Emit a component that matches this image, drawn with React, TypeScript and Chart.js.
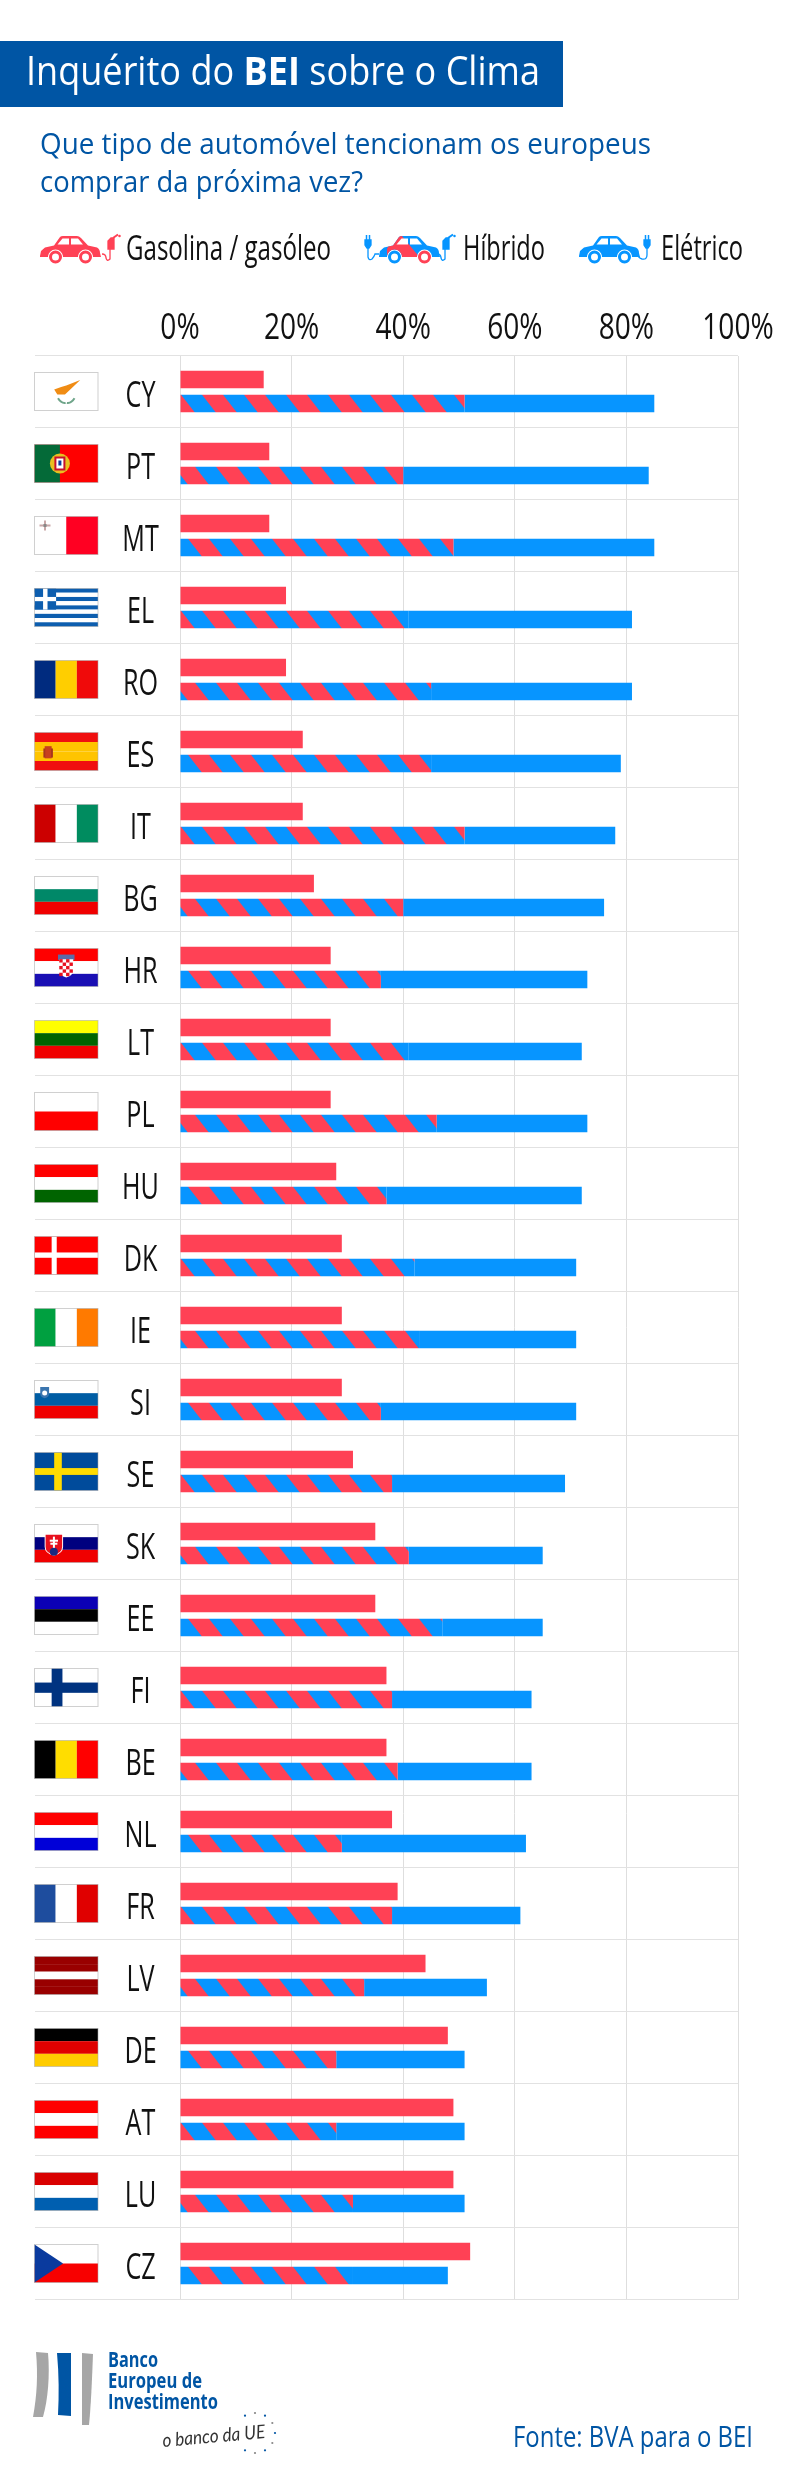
import React, { useEffect, useRef } from "react";
import { Chart, registerables } from "chart.js";

Chart.register(...registerables);

const countries = ["CY","PT","MT","EL","RO","ES","IT","BG","HR","LT","PL","HU","DK","IE","SI","SE","SK","EE","FI","BE","NL","FR","LV","DE","AT","LU","CZ"];
const gasolina = [15,16,16,19,19,22,22,24,27,27,27,28,29,29,29,31,35,35,37,37,38,39,44,48,49,49,52];
const hibrido = [51,40,49,41,45,45,51,40,36,41,46,37,42,43,36,38,41,47,38,39,29,38,33,28,28,31,31];
const eletrico = [34,44,36,40,36,34,27,36,37,31,27,35,29,28,35,31,24,18,25,24,33,23,22,23,23,20,17];
const xTicks = [0,20,40,60,80,100];

const RED = "#FF4155";
const BLUE = "#0795FF";
const NAVY = "#0055A4";
const SANS = '"Open Sans", sans-serif';

type Ctx = CanvasRenderingContext2D;
const bands = (c: Ctx, x: number, y: number, w: number, h: number, cols: string[], vertical = false) => {
  cols.forEach((col, i) => {
    c.fillStyle = col;
    if (vertical) c.fillRect(x + (w * i) / cols.length, y, w / cols.length, h);
    else c.fillRect(x, y + (h * i) / cols.length, w, h / cols.length);
  });
};
const cross = (c: Ctx, x: number, y: number, w: number, h: number, bg: string, fg: string, v0: number, v1: number, h0: number, h1: number) => {
  c.fillStyle = bg; c.fillRect(x, y, w, h);
  c.fillStyle = fg;
  c.fillRect(x + w * v0, y, w * (v1 - v0), h);
  c.fillRect(x, y + h * h0, w, h * (h1 - h0));
};
const shield = (c: Ctx, x: number, y: number, w: number, h: number, col: string) => {
  c.fillStyle = col;
  c.beginPath();
  c.moveTo(x, y); c.lineTo(x + w, y); c.lineTo(x + w, y + h * 0.6);
  c.quadraticCurveTo(x + w, y + h * 0.9, x + w / 2, y + h);
  c.quadraticCurveTo(x, y + h * 0.9, x, y + h * 0.6);
  c.closePath(); c.fill();
};

const flagArt: Record<string, (c: Ctx, x: number, y: number, w: number, h: number) => void> = {
  CY: (c, x, y, w, h) => {
    c.fillStyle = "#fff"; c.fillRect(x, y, w, h);
    c.fillStyle = "#F08C14";
    c.beginPath();
    c.moveTo(x + w*0.31, y + h*0.45); c.lineTo(x + w*0.42, y + h*0.38); c.lineTo(x + w*0.5, y + h*0.34);
    c.lineTo(x + w*0.72, y + h*0.2); c.lineTo(x + w*0.58, y + h*0.42); c.lineTo(x + w*0.48, y + h*0.58);
    c.lineTo(x + w*0.36, y + h*0.58); c.closePath(); c.fill();
    c.strokeStyle = "#6FA58A"; c.lineWidth = 2;
    c.beginPath(); c.moveTo(x + w*0.37, y + h*0.68); c.quadraticCurveTo(x + w*0.42, y + h*0.82, x + w*0.49, y + h*0.8);
    c.moveTo(x + w*0.63, y + h*0.68); c.quadraticCurveTo(x + w*0.58, y + h*0.82, x + w*0.51, y + h*0.8); c.stroke();
  },
  PT: (c, x, y, w, h) => {
    c.fillStyle = "#FF0000"; c.fillRect(x, y, w, h);
    c.fillStyle = "#046A38"; c.fillRect(x, y, w * 0.4, h);
    c.fillStyle = "#E8C020"; c.beginPath(); c.arc(x + w*0.4, y + h/2, 10, 0, 7); c.fill();
    c.fillStyle = "#C8102E"; c.fillRect(x + w*0.4 - 5.5, y + h/2 - 7, 11, 14);
    c.fillStyle = "#fff"; c.fillRect(x + w*0.4 - 3.5, y + h/2 - 5, 7, 10);
    c.fillStyle = "#0A3A9E"; c.fillRect(x + w*0.4 - 1.5, y + h/2 - 3, 3, 5);
  },
  MT: (c, x, y, w, h) => {
    bands(c, x, y, w, h, ["#fff", "#FF0022"], true);
    c.fillStyle = "#C9A8A8"; c.fillRect(x + 5, y + 8, 11, 2); c.fillRect(x + 9.5, y + 4, 2, 10);
    c.fillStyle = "#888"; c.fillRect(x + 9, y + 7.5, 3, 3);
  },
  EL: (c, x, y, w, h) => {
    bands(c, x, y, w, h, ["#0D5EAF","#fff","#0D5EAF","#fff","#0D5EAF","#fff","#0D5EAF","#fff","#0D5EAF"]);
    c.fillStyle = "#0D5EAF"; c.fillRect(x, y, w * 0.34, (h * 5) / 9);
    c.fillStyle = "#fff"; c.fillRect(x + w*0.135, y, w*0.07, (h*5)/9); c.fillRect(x, y + (h*2)/9, w*0.34, h/9);
  },
  RO: (c, x, y, w, h) => bands(c, x, y, w, h, ["#002B7F","#FFCE00","#F00A0A"], true),
  ES: (c, x, y, w, h) => {
    bands(c, x, y, w, h, ["#F00F0F","#FFC400","#FFC400","#F00F0F"]);
    c.fillStyle = "#C8401E"; c.fillRect(x + w*0.16, y + h*0.36, w*0.11, h*0.32);
    c.fillStyle = "#A8361E"; c.fillRect(x + w*0.14, y + h*0.42, w*0.03, h*0.24); c.fillRect(x + w*0.26, y + h*0.42, w*0.03, h*0.24);
  },
  IT: (c, x, y, w, h) => bands(c, x, y, w, h, ["#CC0000","#fff","#008C5F"], true),
  BG: (c, x, y, w, h) => bands(c, x, y, w, h, ["#fff","#008868","#F00000"]),
  HR: (c, x, y, w, h) => {
    bands(c, x, y, w, h, ["#FF0000","#fff","#1A0FB4"]);
    c.fillStyle = "#5A6BA8"; c.fillRect(x + w*0.37, y + h*0.16, w*0.26, h*0.14);
    shield(c, x + w*0.39, y + h*0.28, w*0.22, h*0.48, "#fff");
    c.fillStyle = "#E81020";
    for (let i = 0; i < 4; i++) for (let j = 0; j < 5; j++) if ((i + j) % 2 === 0) c.fillRect(x + w*0.39 + i*3.4, y + h*0.28 + j*3.4, 3.4, 3.4);
  },
  LT: (c, x, y, w, h) => bands(c, x, y, w, h, ["#FFFF00","#006400","#F00000"]),
  PL: (c, x, y, w, h) => bands(c, x, y, w, h, ["#fff","#FF0000"]),
  HU: (c, x, y, w, h) => bands(c, x, y, w, h, ["#FF0000","#fff","#006400"]),
  DK: (c, x, y, w, h) => cross(c, x, y, w, h, "#FF0000", "#fff", 0.27, 0.35, 0.42, 0.56),
  IE: (c, x, y, w, h) => bands(c, x, y, w, h, ["#00A040","#fff","#FF7A00"], true),
  SI: (c, x, y, w, h) => {
    bands(c, x, y, w, h, ["#fff","#005DA4","#F00000"]);
    shield(c, x + w*0.09, y + h*0.17, w*0.14, h*0.3, "#3B75AF");
    c.fillStyle = "#fff"; c.beginPath(); c.arc(x + w*0.16, y + h*0.33, 2.5, 0, 7); c.fill();
  },
  SE: (c, x, y, w, h) => cross(c, x, y, w, h, "#004B9B", "#FFDB00", 0.31, 0.43, 0.41, 0.59),
  SK: (c, x, y, w, h) => {
    bands(c, x, y, w, h, ["#fff","#00007F","#F00000"]);
    shield(c, x + w*0.16, y + h*0.25, w*0.29, h*0.57, "#fff");
    shield(c, x + w*0.175, y + h*0.27, w*0.26, h*0.53, "#E8101E");
    c.fillStyle = "#fff"; c.fillRect(x + w*0.29, y + h*0.32, 2, h*0.3); c.fillRect(x + w*0.24, y + h*0.4, w*0.13, 2); c.fillRect(x + w*0.25, y + h*0.48, w*0.11, 2);
    c.fillStyle = "#1A2A80"; c.beginPath(); c.arc(x + w*0.305, y + h*0.72, 4, 0, 7); c.fill();
  },
  EE: (c, x, y, w, h) => bands(c, x, y, w, h, ["#0B00B4","#000","#fff"]),
  FI: (c, x, y, w, h) => cross(c, x, y, w, h, "#fff", "#003380", 0.27, 0.44, 0.37, 0.64),
  BE: (c, x, y, w, h) => bands(c, x, y, w, h, ["#000","#FFDD00","#FF0000"], true),
  NL: (c, x, y, w, h) => bands(c, x, y, w, h, ["#FF0000","#fff","#0000D8"]),
  FR: (c, x, y, w, h) => bands(c, x, y, w, h, ["#1E4D9E","#fff","#E00000"], true),
  LV: (c, x, y, w, h) => bands(c, x, y, w, h, ["#990000","#990000","#fff","#990000","#990000"]),
  DE: (c, x, y, w, h) => bands(c, x, y, w, h, ["#000","#E00000","#FFCC00"]),
  AT: (c, x, y, w, h) => bands(c, x, y, w, h, ["#FF0000","#fff","#FF0000"]),
  LU: (c, x, y, w, h) => bands(c, x, y, w, h, ["#D90000","#fff","#005FB0"]),
  CZ: (c, x, y, w, h) => {
    bands(c, x, y, w, h, ["#fff","#F80000"]);
    c.fillStyle = "#0A3A9E"; c.beginPath(); c.moveTo(x, y); c.lineTo(x + w*0.45, y + h/2); c.lineTo(x, y + h); c.closePath(); c.fill();
  },
};

const flagPlugin = {
  id: "flags",
  afterDraw(chart: any) {
    const c: Ctx = chart.ctx;
    countries.forEach((code, i) => {
      const cy = chart.scales.y.getPixelForValue(i);
      const x = 34.5, w = 63.5, h = 38, y = cy - 19;
      c.save();
      flagArt[code](c, x, y, w, h);
      c.strokeStyle = "rgba(170,170,170,0.55)"; c.lineWidth = 1;
      c.strokeRect(x, y, w, h);
      c.restore();
    });
  },
};

const squeezed = (c: Ctx, text: string, x: number, y: number, k: number) => {
  c.save();
  c.translate(x, y);
  c.scale(k, 1);
  c.fillText(text, 0, 0);
  c.restore();
};

const axisTextPlugin = {
  id: "axisText",
  afterDraw(chart: any) {
    const c: Ctx = chart.ctx;
    c.save();
    c.fillStyle = "#111";
    c.textAlign = "center";
    c.textBaseline = "alphabetic";
    c.font = `36px ${SANS}`;
    xTicks.forEach((v) => squeezed(c, v + "%", chart.scales.x.getPixelForValue(v), 339, 0.78));
    c.font = `37px ${SANS}`;
    countries.forEach((code, i) => squeezed(c, code, 140.5, chart.scales.y.getPixelForValue(i) + 15.5, 0.68));
    c.restore();
  },
};

function stripes(): CanvasPattern {
  const t = document.createElement("canvas");
  t.width = 42; t.height = 54;
  const c = t.getContext("2d")!;
  c.fillStyle = RED; c.fillRect(0, 0, 42, 54);
  c.fillStyle = BLUE;
  for (const x0 of [-84, -42, 0, 42]) {
    c.beginPath();
    c.moveTo(x0, 0); c.lineTo(x0 + 21, 0); c.lineTo(x0 + 63, 54); c.lineTo(x0 + 42, 54);
    c.closePath(); c.fill();
  }
  return c.createPattern(t, "repeat")!;
}

const BODY = "M0,21 L1,16 L5,12.5 L14,10.5 L20,2 Q21,1 23,1 L37,1 Q39,1 41,3 L48,10.5 L57,12.5 Q60,14 60,18 L61,22 L53,22 A7.5,7.5 0 0 0 38,22 L23,22 A7.5,7.5 0 0 0 8,22 L0,22 Z";

function Car({ x, y, color, hybrid }: { x: number; y: number; color: string; hybrid?: boolean }) {
  const id = "clip" + x;
  return (
    <g transform={`translate(${x},${y})`}>
      <path d={BODY} fill={color} />
      {hybrid && (
        <>
          <clipPath id={id}><path d={BODY} /></clipPath>
          <polygon points="8,24 30,24 42,24 23,1 14,1 8,14" fill={RED} clipPath={`url(#${id})`} />
        </>
      )}
      <polygon points="17.5,9.5 22.5,3.5 29,3.5 29,9.5" fill="#fff" />
      <polygon points="31,3.5 38,3.5 43,9.5 31,9.5" fill="#fff" />
      <circle cx="15.5" cy="22" r="5" fill="#fff" stroke={hybrid ? BLUE : color} strokeWidth="3" />
      <circle cx="45.5" cy="22" r="5" fill="#fff" stroke={hybrid ? RED : color} strokeWidth="3" />
    </g>
  );
}
function Pump({ x, y, color }: { x: number; y: number; color: string }) {
  return (
    <g transform={`translate(${x},${y})`} fill="none" stroke={color} strokeWidth="1.3">
      <path d="M0,20 Q4,20 4,24 Q5,28 8,25 L8,15" />
      <path d="M6,15 L6,7 L9,4 L12,4 L12,15 Z" fill={color} />
      <path d="M11,4 L16,0.5" strokeWidth="2" />
      <circle cx="17.5" cy="2" r="0.6" fill={color} />
    </g>
  );
}
function Plug({ x, y, color, flip }: { x: number; y: number; color: string; flip?: boolean }) {
  return (
    <g transform={`translate(${x},${y})`} fill="none" stroke={color} strokeWidth="1.3">
      <path d={flip ? "M3,14 L3,24 Q4,28 7,26 Q9,24 10,21 L14,21" : "M3,14 L3,22 Q3,27 -2,26 Q-6,25 -6,21 L-8,21"} />
      <path d="M0,7 L6,7 L6,12 L4,15 L2,15 L0,12 Z" fill={color} />
      <path d="M1.5,7 L1.5,2 M4.5,7 L4.5,2" strokeWidth="1.5" />
    </g>
  );
}

const starAngles = [-90,-60,-30,0,30,60,90,120,-120];

export default function App() {
  const ref = useRef<HTMLCanvasElement>(null);
  useEffect(() => {
    const chart = new Chart(ref.current!, {
      type: "bar",
      data: {
        labels: countries,
        datasets: [
          { label: "Gasolina / gasóleo", data: gasolina, backgroundColor: RED, stack: "a" },
          { label: "Híbrido", data: hibrido, backgroundColor: stripes() as any, stack: "b" },
          { label: "Elétrico", data: eletrico, backgroundColor: BLUE, stack: "b" },
        ],
      },
      options: {
        indexAxis: "y",
        responsive: false,
        animation: false,
        devicePixelRatio: 1,
        layout: { padding: { left: 0, right: 62, top: 0, bottom: 181.5 } },
        datasets: { bar: { categoryPercentage: 0.6667, barPercentage: 0.72 } },
        plugins: { legend: { display: false }, tooltip: { enabled: false } },
        scales: {
          x: {
            position: "top",
            stacked: true,
            min: 0,
            max: 100,
            afterFit: (s: any) => { s.height = 355.5; },
            afterBuildTicks: (s: any) => { s.ticks = xTicks.map((value) => ({ value })); },
            grid: { color: "#DEDEDE", drawTicks: false, lineWidth: 1 },
            border: { display: false },
            ticks: { display: false },
          },
          y: {
            stacked: true,
            afterFit: (s: any) => { s.width = 180; },
            grid: { color: "#E2E2E2", offset: true, tickLength: 145, lineWidth: 1 },
            border: { display: false },
            ticks: { display: false, autoSkip: false },
          },
        },
      } as any,
      plugins: [flagPlugin, axisTextPlugin],
    });
    return () => chart.destroy();
  }, []);

  return (
    <div style={{ position: "absolute", left: 0, top: 0, width: 800, height: 2481, background: "#fff", overflow: "hidden" }}>
      <canvas ref={ref} width={800} height={2481} style={{ position: "absolute", left: 0, top: 0, width: 800, height: 2481 }} />
      <svg width={800} height={2481} style={{ position: "absolute", left: 0, top: 0 }}>
        <rect x={0} y={41} width={563} height={66} fill={NAVY} />
        <text x={26} y={85} fill="#fff" fontFamily={SANS} fontSize={40} textLength={514} lengthAdjust="spacingAndGlyphs">
          Inquérito do <tspan fontWeight="700">BEI</tspan> sobre o Clima
        </text>
        <text x={40} y={153.5} fill={NAVY} fontFamily={SANS} fontSize={29} textLength={611} lengthAdjust="spacingAndGlyphs">Que tipo de automóvel tencionam os europeus</text>
        <text x={40} y={191.5} fill={NAVY} fontFamily={SANS} fontSize={29} textLength={323} lengthAdjust="spacingAndGlyphs">comprar da próxima vez?</text>

        <Car x={40} y={235} color={RED} />
        <Pump x={102} y={234} color={RED} />
        <text x={126} y={260} fill="#111" fontFamily={SANS} fontSize={35} textLength={205} lengthAdjust="spacingAndGlyphs">Gasolina / gasóleo</text>

        <Plug x={365} y={233} color={BLUE} flip />
        <Car x={379} y={235} color={BLUE} hybrid />
        <Pump x={437} y={234} color={BLUE} />
        <text x={463} y={260} fill="#111" fontFamily={SANS} fontSize={35} textLength={82} lengthAdjust="spacingAndGlyphs">Híbrido</text>

        <Car x={579} y={235} color={BLUE} />
        <Plug x={644} y={233} color={BLUE} />
        <text x={661} y={260} fill="#111" fontFamily={SANS} fontSize={35} textLength={82} lengthAdjust="spacingAndGlyphs">Elétrico</text>

        <path d="M36,2352 L48,2353 C50,2375 48,2400 43,2417 L33,2417 C37,2395 38,2375 36,2352 Z" fill="#A6A6A6" />
        <path d="M57,2353 L71,2353 L71,2416 L58,2415 C59,2395 59,2375 57,2353 Z" fill={NAVY} />
        <path d="M82,2353 L93,2354 C92,2380 91,2405 89,2425 L82,2425 Z" fill="#A6A6A6" />
        <text x={108} y={2367} fill={NAVY} fontFamily={SANS} fontWeight="700" fontSize={21} textLength={50} lengthAdjust="spacingAndGlyphs">Banco</text>
        <text x={108} y={2388} fill={NAVY} fontFamily={SANS} fontWeight="700" fontSize={21} textLength={94} lengthAdjust="spacingAndGlyphs">Europeu de</text>
        <text x={108} y={2409} fill={NAVY} fontFamily={SANS} fontWeight="700" fontSize={21} textLength={110} lengthAdjust="spacingAndGlyphs">Investimento</text>
        <text x={163} y={2447} transform="rotate(-5 163 2447)" fill="#333" fontFamily="Lato, sans-serif" fontStyle="italic" fontSize={19} textLength={103} lengthAdjust="spacingAndGlyphs">o banco da UE</text>
        {starAngles.map((a) => (
          <circle key={a} cx={255 + 20 * Math.cos((a * Math.PI) / 180)} cy={2433 + 20 * Math.sin((a * Math.PI) / 180)} r={1.1} fill={a % 60 === 0 ? NAVY : "#888"} />
        ))}
        <text x={513} y={2447} fill={NAVY} fontFamily={SANS} fontSize={29} textLength={240} lengthAdjust="spacingAndGlyphs">Fonte: BVA para o BEI</text>
      </svg>
    </div>
  );
}
